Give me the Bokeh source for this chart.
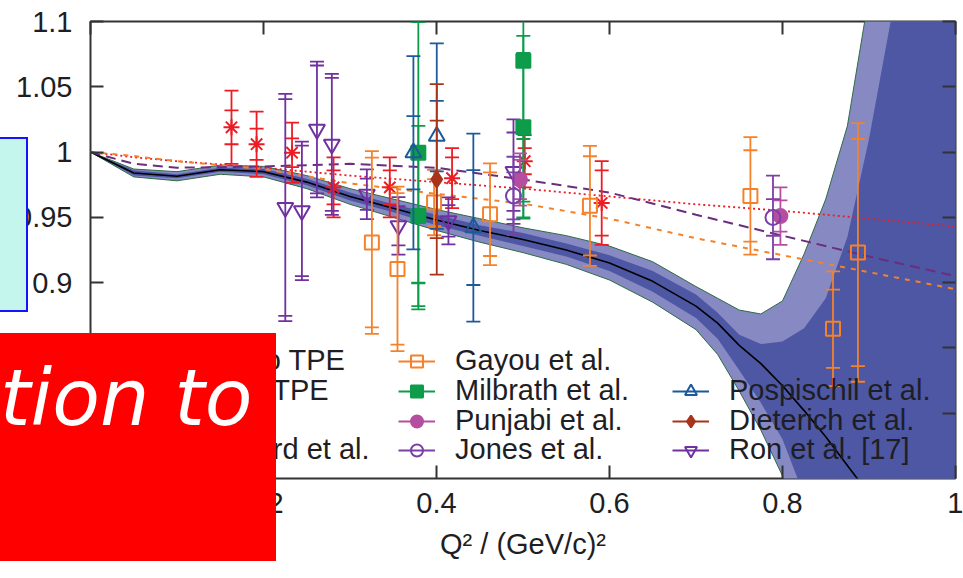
from bokeh.plotting import figure
from bokeh.models import (ColumnDataSource, Range1d, FixedTicker, LinearAxis, Legend,
                          LegendItem, CustomJSTickFormatter, Div)
from bokeh.embed import file_html
from bokeh.resources import INLINE

# ---------------------------------------------------------------- data
# axis ticks
x_tick_values = [0, 0.2, 0.4, 0.6, 0.8, 1]
x_tick_labels = ["0", "0.2", "0.4", "0.6", "0.8", "1"]
y_tick_values = [0.8, 0.85, 0.9, 0.95, 1.0, 1.05, 1.1]
y_tick_labels = ["0.8", "0.85", "0.9", "0.95", "1", "1.05", "1.1"]

# fit with its uncertainty bands (Q^2 grid, ratio values)
band_q2 = [0, 0.05, 0.1, 0.15, 0.2, 0.25, 0.3, 0.35, 0.4, 0.45, 0.5, 0.55, 0.6, 0.65,
           0.7, 0.725, 0.75, 0.775, 0.8, 0.825, 0.85, 0.875, 0.9, 0.925, 0.95, 1.0]
fit_central = [1.0, 0.984, 0.9815, 0.9865, 0.985, 0.977, 0.966, 0.957, 0.948, 0.940, 0.933,
               0.925, 0.915, 0.901, 0.882, 0.869, 0.852, 0.838, 0.821, 0.802, 0.782, 0.760,
               0.738, 0.71, 0.68, 0.62]
outer_hi = [1.0, 0.987, 0.985, 0.990, 0.989, 0.982, 0.972, 0.964, 0.956, 0.949, 0.942, 0.936,
            0.928, 0.916, 0.897, 0.888, 0.879, 0.876, 0.886, 0.922, 0.964, 1.02, 1.12, 1.25,
            1.4, 1.6]
inner_hi = [1.0, 0.986, 0.983, 0.988, 0.987, 0.9795, 0.969, 0.960, 0.952, 0.944, 0.938, 0.930,
            0.921, 0.909, 0.891, 0.877, 0.860, 0.853, 0.855, 0.865, 0.888, 0.935, 1.01, 1.10,
            1.2, 1.4]
inner_lo = [1.0, 0.982, 0.980, 0.985, 0.983, 0.9745, 0.963, 0.954, 0.944, 0.936, 0.928, 0.920,
            0.909, 0.893, 0.873, 0.857, 0.833, 0.808, 0.780, 0.737, 0.68, 0.6, 0.5, 0.4, 0.3,
            0.1]
outer_lo = [1.0, 0.981, 0.978, 0.983, 0.981, 0.972, 0.960, 0.950, 0.940, 0.931, 0.923, 0.914,
            0.902, 0.885, 0.864, 0.845, 0.817, 0.787, 0.752, 0.70, 0.62, 0.5, 0.4, 0.3, 0.2,
            0.0]

# other parametrisations
curve_q2 = [0, 0.05, 0.1, 0.2, 0.3, 0.4, 0.5, 0.6, 0.7, 0.8, 0.9, 1.0]
curve_red = [1.0, 0.996, 0.993, 0.988, 0.982, 0.977, 0.972, 0.966, 0.960, 0.955, 0.949, 0.943]
curve_orange = [1.0, 0.997, 0.993, 0.987, 0.976, 0.968, 0.9605, 0.949, 0.934, 0.921, 0.908,
                0.895]
curve_purple = [1.0, 0.991, 0.988, 0.989, 0.991, 0.988, 0.979, 0.969, 0.952, 0.936, 0.920,
                0.905]

# polarisation data: Q^2, ratio, total error, statistical error
crawford_q2 = [0.163, 0.192, 0.233, 0.281, 0.346, 0.418, 0.502, 0.591]
crawford_r = [1.019, 1.006, 0.9995, 0.973, 0.973, 0.980, 0.993, 0.961]
crawford_tot = [0.028, 0.025, 0.023, 0.023, 0.023, 0.023, 0.020, 0.032]
crawford_stat = [0.013, 0.012, 0.011, 0.013, 0.013, 0.016, 0.010, 0.025]

gayou_q2 = [0.3253, 0.3549, 0.3972, 0.4619, 0.5774, 0.7629, 0.8584, 0.8872]
gayou_r = [0.9308, 0.9105, 0.9613, 0.9524, 0.9588, 0.9664, 0.8647, 0.9231]
gayou_tot = [0.070, 0.063, 0.025, 0.039, 0.046, 0.045, 0.044, 0.099]
gayou_stat = [0.065, 0.058, 0.018, 0.032, 0.038, 0.035, 0.030, 0.087]

milbrath_q2 = [0.379, 0.379, 0.5004, 0.5004]
milbrath_r = [0.9995, 0.951, 1.070, 1.019]
milbrath_tot = [0.120, 0.069, 0.120, 0.070]
milbrath_stat = [0.100, 0.051, 0.060, 0.057]

punjabi_q2 = [0.4965, 0.7976]
punjabi_r = [0.979, 0.951]
punjabi_tot = [0.020, 0.022]
punjabi_stat = [0.015, 0.012]

jones_q2 = [0.489, 0.789]
jones_r = [0.9664, 0.9499]
jones_tot = [0.030, 0.032]
jones_stat = [0.018, 0.014]

pospischil_q2 = [0.3733, 0.4003, 0.4426]
pospischil_r = [0.9995, 1.0122, 0.9422]
pospischil_tot = [0.074, 0.071, 0.072]
pospischil_stat = [0.028, 0.027, 0.044]

dieterich_q2 = [0.4003]
dieterich_r = [0.9791]
dieterich_tot = [0.073]
dieterich_stat = [0.045]

ron_q2 = [0.2252, 0.2444, 0.2618, 0.279, 0.3195, 0.356, 0.4138, 0.489]
ron_r = [0.9575, 0.955, 1.0173, 1.0059, 0.9677, 0.9435, 0.9473, 0.985]
ron_tot = [0.087, 0.053, 0.052, 0.054, 0.019, 0.022, 0.018, 0.040]
ron_stat = [0.083, 0.050, 0.049, 0.051, 0.012, 0.015, 0.012, 0.030]

# ---------------------------------------------------------------- styling
FONT = "Liberation Sans"
TXT = "#1e1e24"

p = figure(width=963, height=578, x_range=Range1d(0, 1), y_range=Range1d(0.75, 1.1),
           output_backend="svg", toolbar_location=None,
           min_border_left=90, min_border_right=8, min_border_top=21, min_border_bottom=100)
p.background_fill_color = "white"
p.border_fill_color = "white"
p.outline_line_color = "#333333"
p.outline_line_width = 2
p.grid.visible = False


def lookup_formatter(vals, labs):
    return CustomJSTickFormatter(
        args=dict(vals=vals, labs=labs),
        code="const i = vals.findIndex(v => Math.abs(v - tick) < 1e-9); return i < 0 ? '' : labs[i];")


def style_axis(ax, vals, labs):
    ax.ticker = FixedTicker(ticks=vals)
    ax.formatter = lookup_formatter(vals, labs)
    ax.axis_line_color = None
    ax.major_tick_in = 13
    ax.major_tick_out = 0
    ax.major_tick_line_color = "#333333"
    ax.major_tick_line_width = 2
    ax.minor_tick_line_color = None
    ax.major_label_text_font = FONT
    ax.major_label_text_font_size = "29px"
    ax.major_label_text_color = TXT


style_axis(p.xaxis[0], x_tick_values, x_tick_labels)
style_axis(p.yaxis[0], y_tick_values, y_tick_labels)
p.xaxis.major_label_standoff = 14
p.yaxis.major_label_standoff = 18
p.xaxis.axis_label = "Q² / (GeV/c)²"
p.xaxis.axis_label_text_font = FONT
p.xaxis.axis_label_text_font_style = "normal"
p.xaxis.axis_label_text_font_size = "29px"
p.xaxis.axis_label_text_color = TXT
p.xaxis.axis_label_standoff = 12

# mirrored tick marks on the top and right edges
for side, vals in (("above", x_tick_values), ("right", y_tick_values)):
    ax = LinearAxis(ticker=FixedTicker(ticks=vals),
                    formatter=CustomJSTickFormatter(code="return ''"),
                    axis_line_color=None, major_tick_in=13, major_tick_out=0,
                    major_tick_line_color="#333333", major_tick_line_width=2,
                    minor_tick_line_color=None, major_label_standoff=0)
    p.add_layout(ax, side)

# ---------------------------------------------------------------- fit band
p.varea(x=band_q2, y1=outer_lo, y2=outer_hi, fill_color="#8789c2")
p.varea(x=band_q2, y1=inner_lo, y2=inner_hi, fill_color="#4d57a4")
p.line(band_q2, outer_hi, line_color="#2e6b46", line_width=1)
p.line(band_q2, outer_lo, line_color="#2e6b46", line_width=1)
fit_line = p.line(band_q2, fit_central, line_color="black", line_width=1.6)

red_line = p.line(curve_q2, curve_red, line_color="#ed1c24", line_width=1.8, line_dash="2 3")
orange_line = p.line(curve_q2, curve_orange, line_color="#f5822a", line_width=2,
                     line_dash="5 6")
purple_line = p.line(curve_q2, curve_purple, line_color="#6b2d7e", line_width=2,
                     line_dash="10 6")


# ---------------------------------------------------------------- data sets
def add_set(q2, r, tot, stat, color, marker, filled, size):
    src = ColumnDataSource(dict(
        x=q2, y=r,
        lo=[v - e for v, e in zip(r, tot)], hi=[v + e for v, e in zip(r, tot)],
        slo=[v - e for v, e in zip(r, stat)], shi=[v + e for v, e in zip(r, stat)]))
    bar = p.segment(x0="x", y0="lo", x1="x", y1="hi", source=src,
                    line_color=color, line_width=1.8)
    for col in ("lo", "hi", "slo", "shi"):
        p.scatter(x="x", y=col, source=src, marker="dash", size=14,
                  line_color=color, line_width=1.8)
    mk = p.scatter(x="x", y="y", source=src, marker=marker, size=size,
                   line_color=color, line_width=2,
                   fill_color=color if filled else None)
    return [bar, mk]


r_crawford = add_set(crawford_q2, crawford_r, crawford_tot, crawford_stat,
                     "#ed1c24", "asterisk", False, 16)
r_ron = add_set(ron_q2, ron_r, ron_tot, ron_stat, "#7030a0", "inverted_triangle", False, 16)
r_gayou = add_set(gayou_q2, gayou_r, gayou_tot, gayou_stat, "#f5822a", "square", False, 14)
r_milbrath = add_set(milbrath_q2, milbrath_r, milbrath_tot, milbrath_stat,
                     "#0c9c4a", "square", True, 14)
r_punjabi = add_set(punjabi_q2, punjabi_r, punjabi_tot, punjabi_stat,
                    "#b54ea0", "circle", True, 14)
r_jones = add_set(jones_q2, jones_r, jones_tot, jones_stat, "#7a3fa8", "circle", False, 15)
r_posp = add_set(pospischil_q2, pospischil_r, pospischil_tot, pospischil_stat,
                 "#1c5a99", "triangle", False, 16)
r_diet = add_set(dieterich_q2, dieterich_r, dieterich_tot, dieterich_stat,
                 "#a8341c", "diamond", True, 16)

blank = p.scatter(x=[], y=[], size=0, alpha=0)

# ---------------------------------------------------------------- key: one row per legend
key_rows = [
    [("Fits w/o TPE", [purple_line]), ("Gayou et al.", r_gayou), (" ", [blank])],
    [("Fits w/ TPE", [orange_line]), ("Milbrath et al.", r_milbrath),
     ("Pospischil et al.", r_posp)],
    [(" ", [blank]), ("Punjabi et al.", r_punjabi), ("Dieterich et al.", r_diet)],
    [("Crawford et al.", r_crawford), ("Jones et al.", r_jones), ("Ron et al. [17]", r_ron)],
]
row_offsets = [101, 71, 41, 12]   # distance of each key row above the bottom of the frame
for row, off in zip(key_rows, row_offsets):
    p.add_layout(Legend(
        items=[LegendItem(label=lab, renderers=rs) for lab, rs in row],
        location=(34, off), orientation="horizontal",
        glyph_width=37, glyph_height=30, label_standoff=20, label_width=217,
        label_height=30, spacing=0, padding=0, margin=0,
        border_line_color=None, background_fill_alpha=0,
        label_text_font=FONT, label_text_font_size="29px",
        label_text_color=TXT), "center")

# ---------------------------------------------------------------- overlays on the page
note_box = Div(text="", width=38, height=175,
               styles={"position": "absolute", "display": "block",
                       "left": "-10px", "top": "137px", "width": "38px", "height": "175px",
                       "background-color": "#c5f6ee", "border": "2px solid #1414ff",
                       "box-sizing": "border-box", "z-index": "10"})
banner = Div(text='<span style="position:absolute; left:10px; top:26px; line-height:1; '
                  'white-space:nowrap; font-family:\'DejaVu Sans\'; font-style:italic; '
                  'font-size:78px; color:white;">tion to</span>',
             width=286, height=228,
             styles={"position": "absolute", "display": "block",
                     "left": "-10px", "top": "333px", "width": "286px", "height": "228px",
                     "background-color": "#ff0000", "overflow": "hidden",
                     "z-index": "10"})
p.elements = [note_box, banner]

open("out.html", "w").write(file_html(p, INLINE))
